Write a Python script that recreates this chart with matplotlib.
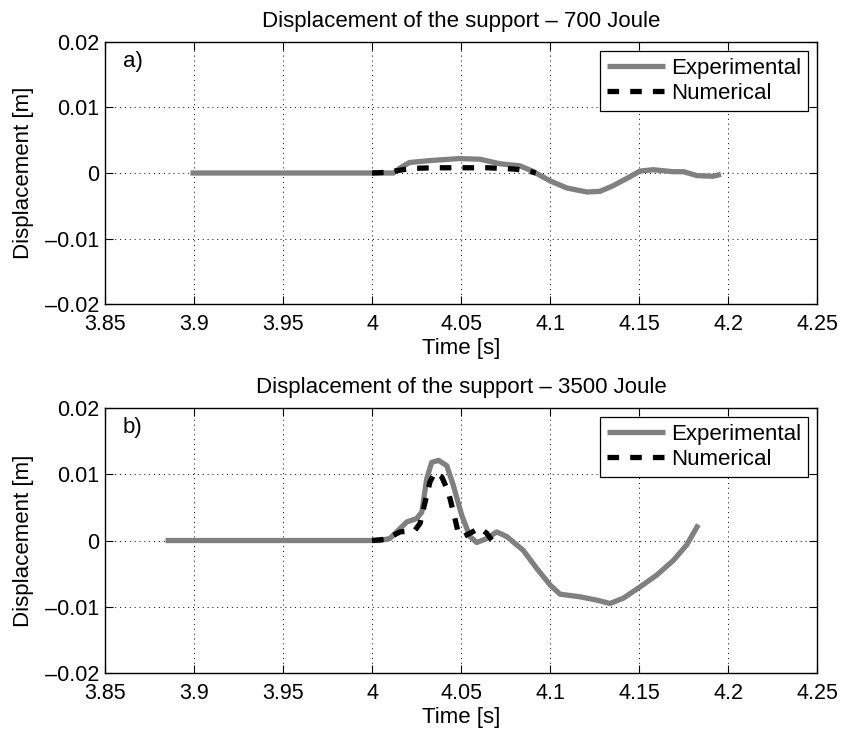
import matplotlib.pyplot as plt

plt.rcParams['font.family'] = ['Liberation Sans', 'DejaVu Sans']

# panel a) - 700 Joule
t_exp_a = [3.898, 4.0, 4.012, 4.016, 4.021, 4.0326, 4.049, 4.0607, 4.072, 4.083,
           4.090, 4.100, 4.1096, 4.1208, 4.128, 4.135, 4.144, 4.1506, 4.158,
           4.169, 4.175, 4.1826, 4.1916, 4.196]
y_exp_a = [0.0, 0.0, 0.0, 0.0008, 0.0016, 0.0019, 0.0022, 0.0021, 0.0014, 0.0011,
           0.0003, -0.0012, -0.0023, -0.0029, -0.0028, -0.0020, -0.0007, 0.0003,
           0.0005, 0.0002, 0.0002, -0.0004, -0.0005, -0.0002]
t_num_a = [4.0, 4.008, 4.015, 4.022, 4.035, 4.05, 4.065, 4.08, 4.088, 4.092]
y_num_a = [0.0, 0.0001, 0.0004, 0.0007, 0.0008, 0.0008, 0.0008, 0.0006, 0.0003, 0.0]

# panel b) - 3500 Joule
t_exp_b = [3.884, 4.0045, 4.010, 4.0195, 4.025, 4.028, 4.0307, 4.0335, 4.0373,
           4.042, 4.0457, 4.0504, 4.055, 4.0588, 4.0645, 4.070, 4.0757, 4.085,
           4.0925, 4.100, 4.1056, 4.1169, 4.1262, 4.1337, 4.1412, 4.1506, 4.160,
           4.1693, 4.1767, 4.1833]
y_exp_b = [0.0, 0.0, 0.0003, 0.0028, 0.0033, 0.0043, 0.0093, 0.0118, 0.0121,
           0.0113, 0.0083, 0.0038, 0.0006, -0.0003, 0.0003, 0.0013, 0.0006,
           -0.0015, -0.0042, -0.0067, -0.0081, -0.0085, -0.0090, -0.0095,
           -0.0087, -0.0070, -0.0052, -0.0030, -0.0007, 0.0024]
t_num_b = [4.0, 4.008, 4.0157, 4.024, 4.027, 4.0298, 4.0326, 4.0354, 4.0392,
           4.0429, 4.0457, 4.0485, 4.0513, 4.055, 4.0607, 4.0644, 4.0691]
y_num_b = [0.0, 0.0002, 0.0013, 0.0015, 0.0026, 0.0058, 0.0089, 0.0103, 0.0096,
           0.0073, 0.0043, 0.0011, 0.0006, 0.0011, 0.0019, 0.0011, -0.0006]

titles = ['Displacement of the support \u2013 700 Joule',
          'Displacement of the support \u2013 3500 Joule']
tags = ['a)', 'b)']
xticks = [3.85, 3.9, 3.95, 4.0, 4.05, 4.1, 4.15, 4.2, 4.25]
xtick_labels = ['3.85', '3.9', '3.95', '4', '4.05', '4.1', '4.15', '4.2', '4.25']
yticks = [-0.02, -0.01, 0.0, 0.01, 0.02]
ytick_labels = ['\u20130.02', '\u20130.01', '0', '0.01', '0.02']

fs = 16
fig = plt.figure(figsize=(8.41, 7.34), dpi=100)
ax_a = fig.add_axes([0.1249, 0.5858, 0.8466, 0.3570])
ax_b = fig.add_axes([0.1249, 0.0831, 0.8466, 0.3610])

panels = [(ax_a, t_exp_a, y_exp_a, t_num_a, y_num_a),
          (ax_b, t_exp_b, y_exp_b, t_num_b, y_num_b)]

for i, (ax, te, ye, tn, yn) in enumerate(panels):
    ax.plot(te, ye, color='#808080', lw=3.8, label='Experimental',
            solid_joinstyle='round', solid_capstyle='butt')
    ax.plot(tn, yn, color='black', lw=3.8, ls=(0, (2.2, 2.1)), label='Numerical')
    ax.set_xlim(3.85, 4.25)
    ax.set_ylim(-0.02, 0.02)
    ax.set_xticks(xticks)
    ax.set_xticklabels(xtick_labels)
    ax.set_yticks(yticks)
    ax.set_yticklabels(ytick_labels)
    ax.tick_params(direction='in', length=6, width=0.8, top=True, right=True,
                   labelsize=fs - 0.5)
    ax.tick_params(axis='x', pad=7)
    ax.tick_params(axis='y', pad=4)
    ax.grid(True, color='black', ls=(0, (1, 4)), lw=0.7)
    for s in ax.spines.values():
        s.set_linewidth(1.0)
    ax.set_title(titles[i], fontsize=fs, pad=11)
    ax.set_xlabel('Time [s]', fontsize=fs, labelpad=2)
    ax.set_ylabel('Displacement [m]', fontsize=fs, labelpad=8)
    ax.text(0.025, 0.925, tags[i], transform=ax.transAxes, fontsize=fs,
            va='center', ha='left')
    leg = ax.legend(loc='upper right', fontsize=fs, handlelength=2.6,
                    handletextpad=0.3, borderaxespad=0.4, fancybox=False,
                    framealpha=1, edgecolor='black', borderpad=0.3,
                    labelspacing=0.2)
    leg.get_frame().set_linewidth(0.9)

fig.savefig('out.png', dpi=100)
